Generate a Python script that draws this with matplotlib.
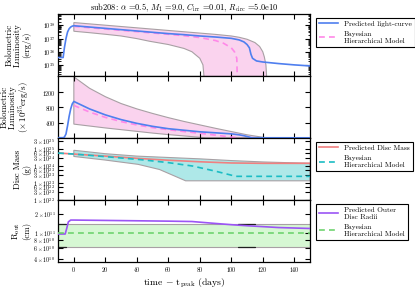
import numpy as np
import matplotlib
matplotlib.use('Agg')
import matplotlib.pyplot as plt
from matplotlib.ticker import FixedLocator, NullLocator, FuncFormatter, LogFormatterMathtext, LogLocator

plt.rcParams['font.family'] = ['cmr10', 'DejaVu Serif']
plt.rcParams['mathtext.fontset'] = 'cm'
plt.rcParams['axes.formatter.use_mathtext'] = True

# ---------------- data ----------------
# light curve (log10 erg/s)
t_lc = [-10, -6.8, -6, -5, -4, -3, -2, -1, 0, 10, 20, 30, 40, 50, 60, 70, 80, 90,
        100, 105, 108, 110, 111.5, 112.5, 113.5, 116, 120, 130, 140, 150]
logL_pred = [35.56, 35.56, 36.3, 37.0, 37.5, 37.75, 37.88, 37.95, 37.98, 37.88, 37.78,
             37.68, 37.58, 37.48, 37.38, 37.3, 37.2, 37.12, 37.02, 36.9, 36.75, 36.55,
             36.3, 35.8, 35.5, 35.3, 35.22, 35.1, 35.0, 34.92]
t_bhm = [0, 10, 20, 30, 40, 50, 60, 70, 80, 90, 95, 100, 102, 103.5, 104]
logL_bhm = [37.93, 37.83, 37.73, 37.63, 37.53, 37.43, 37.33, 37.22, 37.08, 36.85,
            36.65, 36.3, 36.0, 35.5, 33.0]
t_up = [0, 10, 20, 30, 40, 50, 60, 70, 80, 90, 100, 105, 110, 115, 118, 120, 121, 122, 123]
logL_up = [38.22, 38.12, 38.02, 37.92, 37.82, 37.72, 37.62, 37.52, 37.42, 37.32, 37.2,
           37.1, 36.95, 36.7, 36.4, 36.0, 35.6, 35.0, 33.0]
t_lo = [0, 10, 20, 30, 40, 48, 60, 70, 75, 80, 82, 83.5]
logL_lo = [37.56, 37.45, 37.33, 37.2, 37.0, 36.8, 36.55, 36.25, 36.0, 35.5, 35.0, 33.0]

# linear-panel band (units 1e35 erg/s)
t_up2 = [0, 10, 20, 30, 40, 50, 60, 70, 80, 90, 100, 110, 120, 123]
lin_up = [1600, 1300, 1080, 900, 760, 640, 530, 430, 340, 250, 165, 80, 15, 0]
t_lo2 = [0, 10, 20, 30, 40, 50, 60, 70, 80, 84]
lin_lo = [360, 310, 260, 215, 170, 125, 85, 50, 15, 0]

# disc mass (log10 g)
t_m = [-10, 0, 20, 40, 60, 80, 100, 120, 150]
logM_pred = [24.76, 24.7, 24.58, 24.45, 24.34, 24.25, 24.18, 24.16, 24.16]
t_mb = [-10, 0, 20, 44, 60, 75.5, 90, 103, 150]
logM_bhm = [24.76, 24.7, 24.55, 24.36, 24.2, 24.0, 23.7, 23.4, 23.4]
t_mup = [0, 20, 40, 60, 80, 100, 120, 150]
logM_up = [24.92, 24.72, 24.58, 24.5, 24.42, 24.32, 24.24, 24.16]
t_mlo = [0, 20, 40.8, 54.4, 71, 150]
logM_lo = [24.56, 24.35, 24.1, 23.8, 23.14, 23.14]

# outer radius (1e11 cm)
t_r = [-10, -5.5, -4.5, -3.5, -2, 0, 20, 40, 60, 75, 90, 100, 110, 120, 130, 150]
R_pred = [0.98, 0.98, 1.2, 1.5, 1.6, 1.6, 1.58, 1.56, 1.54, 1.52, 1.42, 1.36, 1.31,
          1.27, 1.23, 1.19]
t_rb = [-10, 150]
R_bhm = [1.0, 1.0]
R_up = [1.38, 1.38]
R_lo = [0.62, 0.62]
t_dark1 = [-10, -5]
t_dark2 = [104, 115]

# ---------------- styles ----------------
c_blue = '#4f7fef'
c_pink = '#ff88e8'
c_pinkfill = '#fad3ee'
c_red = '#f08080'
c_cyan = '#1bbcc4'
c_cyanfill = '#aee8e8'
c_purple = '#9b55f5'
c_green = '#6fd36f'
c_greenfill = '#d6f7d3'
c_edge = '#a8a0a4'

fig = plt.figure(figsize=(4.15, 2.91), dpi=100)
gs = fig.add_gridspec(4, 1, left=0.140, right=0.747, top=0.952, bottom=0.098, hspace=0)
axes = [fig.add_subplot(gs[i]) for i in range(4)]

tick_fs = 4.3
for ax in axes:
    ax.set_xlim(-10, 150)
    ax.tick_params(direction='in', which='both', top=True, right=True, labelsize=tick_fs,
                   width=0.8, pad=2)
    ax.tick_params(which='major', length=3.5)
    ax.tick_params(which='minor', length=1.8, width=0.6)
    ax.xaxis.set_major_locator(FixedLocator([0, 20, 40, 60, 80, 100, 120, 140]))
    for s in ax.spines.values():
        s.set_linewidth(0.9)
    if ax is not axes[-1]:
        ax.tick_params(labelbottom=False)

ylab_fs = 6.4
ylab_ls = 0.95
lab_x = -0.108


def legend(ax):
    leg = ax.legend(loc='upper left', bbox_to_anchor=(1.01, 1.0), fontsize=5.3,
                    frameon=True, fancybox=False, edgecolor='black', framealpha=1,
                    handlelength=2.6, borderpad=0.4, labelspacing=0.6)
    leg.get_frame().set_linewidth(0.8)


# Panel 1
ax = axes[0]
ax.set_yscale('log')
ax.fill(list(t_up) + list(t_lo[::-1]),
        [10**v for v in logL_up] + [10**v for v in logL_lo[::-1]],
        facecolor=c_pinkfill, edgecolor=c_edge, linewidth=0.8, zorder=1)
ax.plot(t_lc, [10**v for v in logL_pred], color=c_blue, lw=1.2, zorder=3,
        label='Predicted light-curve')
ax.plot(t_bhm, [10**v for v in logL_bhm], color=c_pink, lw=1.2, ls=(0, (3.5, 2.5)),
        zorder=2, label='Bayesian\nHierarchical Model')
ax.set_ylim(1.4e34, 7.5e38)
ax.yaxis.set_major_locator(FixedLocator([1e35, 1e36, 1e37, 1e38]))
ax.yaxis.set_major_formatter(LogFormatterMathtext())
ax.yaxis.set_minor_locator(LogLocator(subs=np.arange(2, 10)))
ax.yaxis.set_minor_formatter(plt.NullFormatter())
ax.set_ylabel('Bolometric\nLuminosity\n(erg/s)', fontsize=ylab_fs, linespacing=ylab_ls)
ax.yaxis.set_label_coords(lab_x, 0.5)
ax.set_title(r'sub208: $\alpha$ =0.5, $M_1$ =9.0, $C_{\rm irr}$ =0.01, $R_{\rm circ}$ =5.0e10',
             fontsize=6, pad=3)
legend(ax)

# Panel 2
ax = axes[1]
ax.fill(list(t_up2) + list(t_lo2[::-1]), list(lin_up) + list(lin_lo[::-1]),
        facecolor=c_pinkfill, edgecolor=c_edge, linewidth=0.8, zorder=1)
ax.plot(t_lc, [10**(v - 35) for v in logL_pred], color=c_blue, lw=1.2, zorder=3)
ax.plot(t_bhm, [10**(v - 35) for v in logL_bhm], color=c_pink, lw=1.2,
        ls=(0, (3.5, 2.5)), zorder=2)
ax.set_ylim(-10, 1620)
ax.yaxis.set_major_locator(FixedLocator([400, 800, 1200]))
ax.set_ylabel('Bolometric\nLuminosity\n' + r'($\times\,10^{35}$erg/s)', fontsize=ylab_fs,
              linespacing=ylab_ls)
ax.yaxis.set_label_coords(lab_x, 0.5)

# Panel 3
ax = axes[2]
ax.set_yscale('log')
ax.fill(list(t_mup) + list(t_mlo[::-1]),
        [10**v for v in logM_up] + [10**v for v in logM_lo[::-1]],
        facecolor=c_cyanfill, edgecolor=c_edge, linewidth=0.8, zorder=1)
ax.plot(t_m, [10**v for v in logM_pred], color=c_red, lw=1.2, zorder=2,
        label='Predicted Disc Mass')
ax.plot(t_mb, [10**v for v in logM_bhm], color=c_cyan, lw=1.2, ls=(0, (3.5, 2.5)),
        zorder=3, label='Bayesian\nHierarchical Model')
ax.set_ylim(1e22, 4.2e25)
mticks = [1e22, 3e22, 6e22, 1e23, 3e23, 6e23, 1e24, 3e24, 6e24, 1e25, 3e25]
ax.yaxis.set_major_locator(FixedLocator(mticks))
ax.yaxis.set_minor_locator(NullLocator())


def sci_fmt(v, pos):
    e = int(np.floor(np.log10(v) + 1e-9))
    m = v / 10**e
    return r'$%d\times10^{%d}$' % (round(m), e)


ax.yaxis.set_major_formatter(FuncFormatter(sci_fmt))
ax.set_ylabel('Disc Mass\n(g)', fontsize=ylab_fs, linespacing=ylab_ls)
ax.yaxis.set_label_coords(lab_x, 0.5)
legend(ax)

# Panel 4
ax = axes[3]
ax.set_yscale('log')
ax.fill_between(t_rb, [v * 1e11 for v in R_lo], [v * 1e11 for v in R_up],
                facecolor=c_greenfill, edgecolor=c_edge, linewidth=0.8, zorder=1)
for tt in (t_dark1, t_dark2):
    ax.plot(tt, [R_up[0] * 1e11] * 2, color='#202020', lw=0.9, zorder=2,
            solid_capstyle='round')
    ax.plot(tt, [R_lo[0] * 1e11] * 2, color='#202020', lw=0.9, zorder=2,
            solid_capstyle='round')
ax.plot(t_r, [v * 1e11 for v in R_pred], color=c_purple, lw=1.2, zorder=3,
        label='Predicted Outer\nDisc Radii')
ax.plot(t_rb, [v * 1e11 for v in R_bhm], color=c_green, lw=1.2, ls=(0, (3.5, 2.5)),
        zorder=3, label='Bayesian\nHierarchical Model')
ax.set_ylim(3.6e10, 3.2e11)
ax.yaxis.set_major_locator(FixedLocator([4e10, 6e10, 8e10, 1e11, 2e11]))
ax.yaxis.set_minor_locator(NullLocator())
ax.yaxis.set_major_formatter(FuncFormatter(sci_fmt))
ax.set_ylabel(r'R$_{\rm out}$' + '\n(cm)', fontsize=ylab_fs, linespacing=ylab_ls)
ax.yaxis.set_label_coords(lab_x, 0.5)
ax.set_xlabel(r'time $-$ t$_{\rm peak}$ (days)', fontsize=7, labelpad=2)
legend(ax)

fig.savefig('out.png', dpi=100)
